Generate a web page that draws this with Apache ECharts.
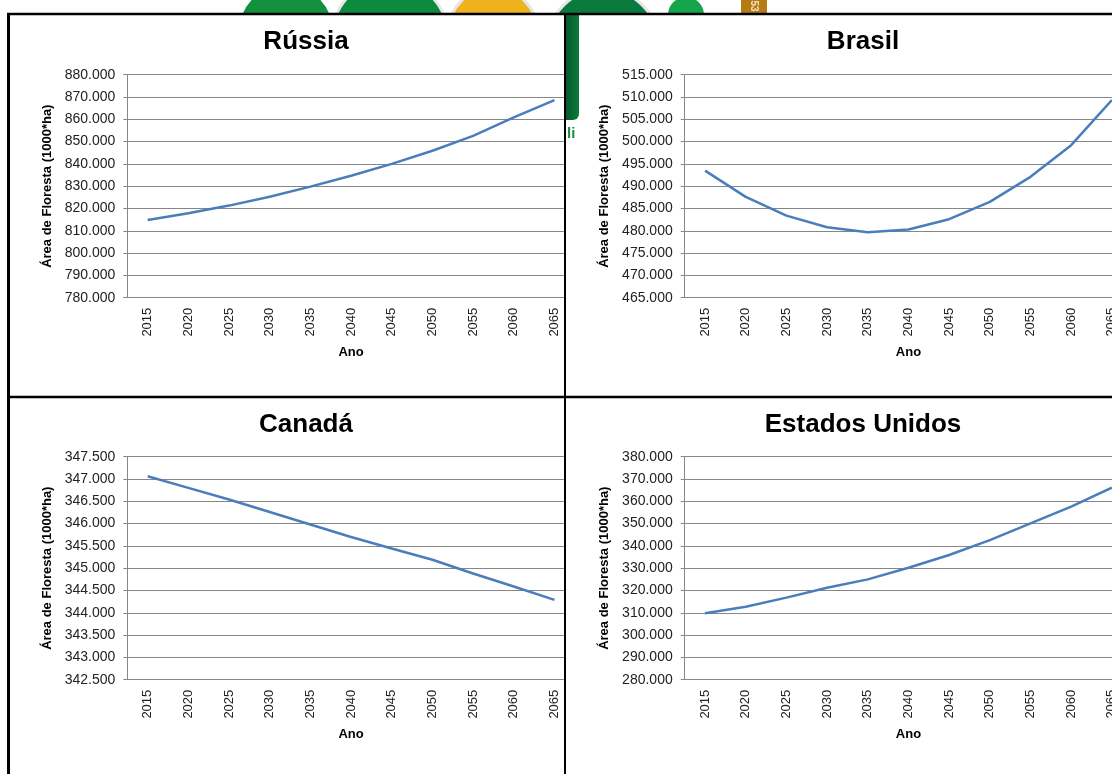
<!DOCTYPE html>
<html>
<head>
<meta charset="utf-8">
<script src="https://cdn.jsdelivr.net/npm/echarts@6/dist/echarts.min.js"></script>
<style>
  body { margin: 0; background: #fff; }
  #page { position: relative; width: 1112px; height: 774px; overflow: hidden; }
  #bg { position: absolute; left: 0; top: 0; width: 1112px; height: 774px; }
  .panel { position: absolute; }
</style>
</head>
<body>
<div id="page">
  <div id="bg"></div>
  <!--Rússia-->
  <div class="panel" id="russia" style="left:10px; top:15px; width:554px; height:381px;"></div>
  <!--Brasil-->
  <div class="panel" id="brasil" style="left:566px; top:15px; width:546px; height:381px;"></div>
  <!--Canadá-->
  <div class="panel" id="canada" style="left:10px; top:398px; width:554px; height:376px;"></div>
  <!--Estados Unidos-->
  <div class="panel" id="eua" style="left:566px; top:398px; width:546px; height:376px;"></div>
</div>
<script>
  // dados
  const anos = ['2015', '2020', '2025', '2030', '2035', '2040', '2045', '2050', '2055', '2060', '2065']
  const russia = [814800, 817900, 821300, 825300, 829800, 834700, 840000, 845900, 852600, 860900, 868600]
  const brasil = [493500, 487600, 483400, 480800, 479700, 480300, 482600, 486500, 492100, 499200, 509300]
  const canada = [347060, 346800, 346540, 346260, 345980, 345700, 345440, 345190, 344880, 344590, 344290]
  const eua = [309800, 312700, 316800, 321200, 325000, 330200, 335900, 342600, 350100, 357600, 366100]

  const fonte = '"Liberation Sans", Arial, sans-serif'
  const cinza = '#868686'

  // 880000 -> "880.000"
  function milhar(v) {
    return String(v).replace(/\B(?=(\d{3})+(?!\d))/g, '.')
  }

  function montar(id, titulo, valores, min, max, passo, gridLeft, gridTop, tituloX) {
    let chart = echarts.init(document.getElementById(id))
    let config = {
      animation: false,
      textStyle: {fontFamily: fonte},
      graphic: [
        {
          type: 'text', x: tituloX, y: 27,
          style: {text: titulo, fontSize: 26, fontWeight: 'bold', fontFamily: fonte,
            fill: '#000', align: 'center', verticalAlign: 'middle'}
        }
      ],
      // o gráfico continua além da borda da célula, como no original
      grid: {left: gridLeft, top: gridTop, width: 447.5, height: 223, outerBoundsMode: 'none'},
      xAxis: {
        type: 'category',
        data: anos,
        boundaryGap: true,
        axisLine: {lineStyle: {color: cinza, width: 1}},
        axisTick: {length: 5, lineStyle: {color: cinza}},
        axisLabel: {rotate: 90, interval: 0, fontSize: 13, margin: 10, color: '#222', fontFamily: fonte},
        name: 'Ano',
        nameLocation: 'middle',
        nameGap: 48,
        nameTextStyle: {fontWeight: 'bold', fontSize: 13, color: '#000', fontFamily: fonte}
      },
      yAxis: {
        type: 'value',
        min: min, max: max, interval: passo,
        axisLine: {show: true, lineStyle: {color: cinza, width: 1}},
        axisTick: {show: true, length: 4, lineStyle: {color: cinza}},
        axisLabel: {margin: 12, fontSize: 14, color: '#222', fontFamily: fonte, formatter: milhar},
        splitLine: {lineStyle: {color: cinza, width: 1}},
        name: 'Área de Floresta (1000*ha)',
        nameLocation: 'middle',
        nameGap: 71,
        nameTextStyle: {fontWeight: 'bold', fontSize: 13, color: '#000', fontFamily: fonte}
      },
      series: [
        {
          type: 'line',
          data: valores,
          symbol: 'none',
          lineStyle: {color: '#4A7EBB', width: 2.5}
        }
      ]
    }
    chart.setOption(config)
  }

  montar('russia', 'Rússia', russia, 780000, 880000, 10000, 117.3, 59.7, 296)
  montar('brasil', 'Brasil', brasil, 465000, 515000, 5000, 118.7, 59.7, 297)
  montar('canada', 'Canadá', canada, 342500, 347500, 500, 117.3, 58.7, 296)
  montar('eua', 'Estados Unidos', eua, 280000, 380000, 10000, 118.7, 58.7, 297)

  // fundo: pedaços do logotipo e moldura da tabela
  let fundo = echarts.init(document.getElementById('bg'))
  fundo.setOption({
    animation: false,
    graphic: [
      {type: 'circle', z: 1, shape: {cx: 286, cy: 32, r: 47}, style: {fill: '#13913f'}},
      {type: 'circle', z: 1, shape: {cx: 390, cy: 37, r: 58}, style: {fill: '#0c8a3d', stroke: '#e6e6e6', lineWidth: 3}},
      {type: 'circle', z: 1, shape: {cx: 493, cy: 33, r: 45}, style: {fill: '#eeb21e', stroke: '#e6e6e6', lineWidth: 3}},
      {type: 'circle', z: 1, shape: {cx: 603, cy: 45, r: 56}, style: {fill: '#0a7a3c', stroke: '#e6e6e6', lineWidth: 3}},
      {type: 'circle', z: 1, shape: {cx: 686, cy: 15, r: 18}, style: {fill: '#14a54a'}},
      {type: 'rect', z: 1, shape: {x: 741, y: 0, width: 26, height: 14}, style: {fill: '#b47b14'}},
      {type: 'text', z: 2, x: 754, y: 6, rotation: -Math.PI / 2,
        style: {text: '53', fontSize: 10, fontWeight: 'bold', fill: '#f3e2c0', align: 'center', verticalAlign: 'middle'}},
      // área branca das células
      {type: 'rect', z: 3, shape: {x: 0, y: 14, width: 1112, height: 760}, style: {fill: '#fff'}},
      // logotipo aparecendo na célula do Brasil
      {type: 'rect', z: 4, shape: {x: 566, y: 15, width: 13, height: 105, r: [0, 0, 6, 0]},
        style: {fill: new echarts.graphic.LinearGradient(0, 0, 1, 0, [
          {offset: 0, color: '#075a2c'}, {offset: 1, color: '#0b7a3a'}])}},
      {type: 'text', z: 4, x: 567, y: 134,
        style: {text: 'li', fontSize: 15, fontWeight: 'bold', fill: '#1f8f3f', verticalAlign: 'middle', fontFamily: fonte}},
      // moldura
      {type: 'line', z: 5, shape: {x1: 7, y1: 14, x2: 1112, y2: 14}, style: {stroke: '#000', lineWidth: 2.5}},
      {type: 'line', z: 5, shape: {x1: 8.5, y1: 13, x2: 8.5, y2: 774}, style: {stroke: '#000', lineWidth: 3}},
      {type: 'line', z: 5, shape: {x1: 565, y1: 14, x2: 565, y2: 774}, style: {stroke: '#000', lineWidth: 2}},
      {type: 'line', z: 5, shape: {x1: 7, y1: 397, x2: 1112, y2: 397}, style: {stroke: '#000', lineWidth: 2.5}}
    ]
  })
</script>
</body>
</html>
